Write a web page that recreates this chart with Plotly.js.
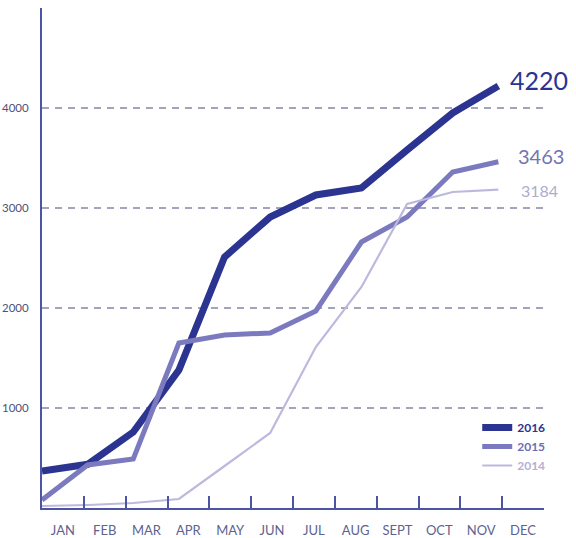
<!DOCTYPE html>
<html>
<head>
<meta charset="utf-8">
<script src="https://cdn.plot.ly/plotly-3.0.1.min.js"></script>
<style>html,body{margin:0;padding:0;background:#fff;}#chart{width:576px;height:538px;}</style>
</head>
<body>
<div id="chart"></div>
<script>
// Data (one point per month, Jan..Nov)
const pointIndex = [0, 1, 2, 3, 4, 5, 6, 7, 8, 9, 10];
const pointMonths = ["JAN","FEB","MAR","APR","MAY","JUN","JUL","AUG","SEPT","OCT","NOV"];
const values2016 = [370, 437, 760, 1380, 2510, 2910, 3130, 3200, 3580, 3950, 4220];
const values2015 = [80, 430, 490, 1650, 1730, 1750, 1970, 2660, 2910, 3360, 3463];
const values2014 = [20, 30, 50, 90, 420, 750, 1610, 2210, 3040, 3160, 3184];
const seriesNames = ["2016", "2015", "2014"];

// Axis labels: month slots with ticks on the boundary after each month
const monthLabels = ["JAN","FEB","MAR","APR","MAY","JUN","JUL","AUG","SEPT","OCT","NOV","DEC"];
const monthBoundaries = [0.5,1.5,2.5,3.5,4.5,5.5,6.5,7.5,8.5,9.5,10.5,11.5];
const yTicks = [1000, 2000, 3000, 4000];

const C2016 = "#2b3491";
const C2015 = "#7c7abf";
const C2014 = "#bdb9de";
const AXIS = "#4b55a4";
const FONT = "Lato, 'Open Sans', sans-serif";

function mk(vals, name, color, width, labelColor) {
  return {
    x: pointIndex, y: vals, type: "scatter", mode: "lines",
    name: '<b><span style="color:' + labelColor + '">' + name + "</span></b>",
    line: {color: color, width: width, shape: "linear"},
    text: pointMonths, hoverinfo: "text+y",
    xaxis: "x2", yaxis: "y"
  };
}

const traces = [
  // carrier for the month axis (no visible marks)
  {x: monthBoundaries, y: monthBoundaries.map(() => null), type: "scatter", mode: "lines",
   xaxis: "x", yaxis: "y", showlegend: false, hoverinfo: "skip", line: {width: 0}},
  mk(values2016, seriesNames[0], C2016, 7, C2016),
  mk(values2015, seriesNames[1], C2015, 5, "#6e6cb2"),
  mk(values2014, seriesNames[2], C2014, 2.2, "#b4b0d6")
];

function last(a){ return a[a.length-1]; }
const lastIdx = last(pointIndex);

const annotations = [
  {x: lastIdx, y: last(values2016), text: String(last(values2016)), xref:"x2", yref:"y", xanchor:"left", yanchor:"middle",
   xshift: 10, yshift: 6, showarrow:false, font:{family:FONT, size:25, color:C2016}},
  {x: lastIdx, y: last(values2015), text: String(last(values2015)), xref:"x2", yref:"y", xanchor:"left", yanchor:"middle",
   xshift: 18, yshift: 6, showarrow:false, font:{family:FONT, size:20, color:"#7573b3"}},
  {x: lastIdx, y: last(values2014), text: String(last(values2014)), xref:"x2", yref:"y", xanchor:"left", yanchor:"middle",
   xshift: 21, yshift: -1, showarrow:false, font:{family:FONT, size:16, color:"#aeaccb"}}
];

const layout = {
  width: 576, height: 538,
  margin: {l: 42, r: 32, t: 8, b: 30, pad: 0},
  paper_bgcolor: "#fff", plot_bgcolor: "#fff",
  font: {family: FONT, color: "#4c5186"},
  showlegend: true,
  legend: {
    x: 0.867, y: 0.19, xanchor: "left", yanchor: "top",
    bgcolor: "rgba(0,0,0,0)", borderwidth: 0,
    font: {family: FONT, size: 12, color: C2016},
    traceorder: "normal", itemclick: false, itemdoubleclick: false
  },
  xaxis: {
    type: "linear", range: [-0.5, 11.5],
    tickmode: "array", tickvals: monthBoundaries, ticktext: monthLabels,
    ticks: "inside", ticklen: 12, tickwidth: 2, tickcolor: AXIS,
    ticklabelshift: -21,
    showgrid: false, zeroline: false,
    showline: true, linecolor: AXIS, linewidth: 2,
    ticklabelstandoff: 9,
    tickfont: {family: FONT, size: 13, color: "#5d6391"},
    fixedrange: true
  },
  xaxis2: {
    overlaying: "x", anchor: "y", side: "bottom",
    range: [0, 11], showline: false, showgrid: false, zeroline: false,
    showticklabels: false, ticks: "", fixedrange: true
  },
  yaxis: {
    range: [0, 5000],
    tickmode: "array", tickvals: yTicks, ticktext: yTicks.map(String),
    showline: true, linecolor: AXIS, linewidth: 2,
    showgrid: true, gridcolor: "#a3a3ba", gridwidth: 1.2, griddash: "7px,6px",
    zeroline: false, ticks: "",
    ticklabelstandoff: 9,
    tickfont: {family: FONT, size: 11.5, color: "#4d5178"},
    fixedrange: true
  },
  annotations: annotations
};

Plotly.newPlot("chart", traces, layout, {displayModeBar: false, staticPlot: true});
</script>
</body>
</html>
